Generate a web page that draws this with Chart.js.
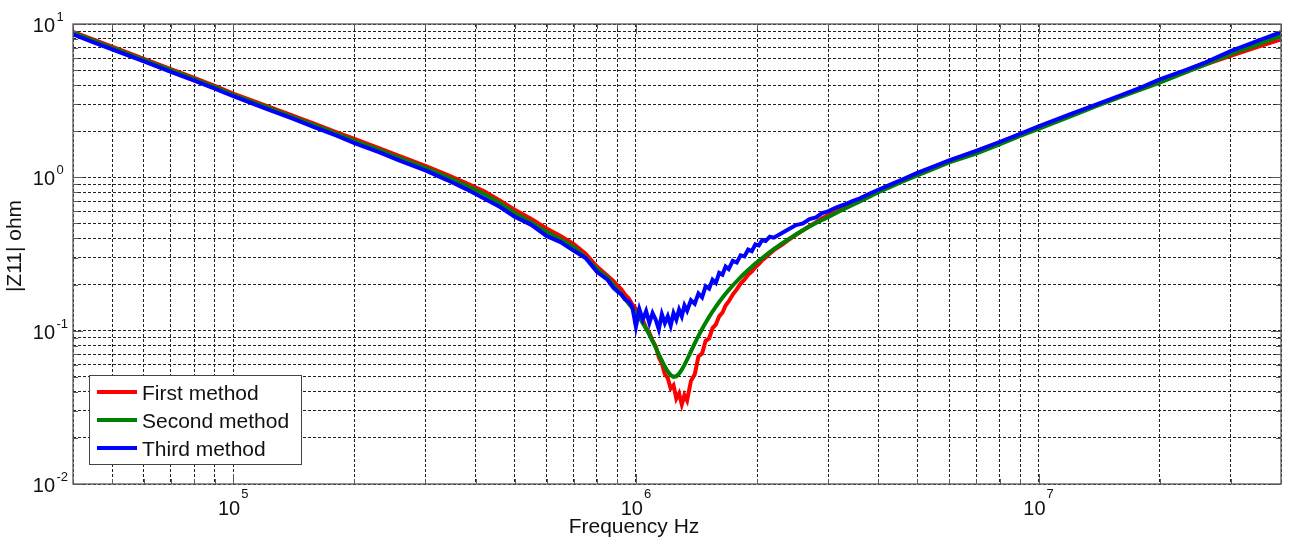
<!DOCTYPE html>
<html>
<head>
<meta charset="utf-8">
<script src="https://cdn.jsdelivr.net/npm/chart.js@4"></script>
<style>
html, body { margin: 0; padding: 0; background: #fff; }
canvas { display: block; }
</style>
</head>
<body>
<canvas id="chart" width="1289" height="542"></canvas>
<script>
// frequency sweep (Hz)
const freq = [
  4e4, 4.5e4, 5e4, 6e4, 7e4, 8e4, 9e4, 1e5, 1.2e5, 1.4e5, 1.6e5, 1.8e5, 2e5, 2.3e5,
  2.6e5, 3e5, 3.4e5, 3.8e5, 4.2e5, 4.6e5, 5e5, 5.5e5, 6e5, 6.5e5, 7e5, 7.5e5, 8e5, 8.5e5,
  8.8e5, 9.0e5, 9.2e5, 9.4e5, 9.6e5, 9.8e5,
  1.00e6, 1.02e6, 1.04e6, 1.06e6, 1.08e6, 1.10e6, 1.12e6, 1.14e6, 1.16e6, 1.18e6,
  1.20e6, 1.22e6, 1.24e6, 1.26e6, 1.28e6, 1.30e6, 1.32e6, 1.34e6,
  1.37e6, 1.40e6, 1.43e6, 1.46e6, 1.49e6, 1.52e6, 1.55e6, 1.58e6, 1.61e6, 1.64e6, 1.67e6, 1.70e6,
  1.74e6, 1.78e6, 1.82e6, 1.86e6, 1.90e6, 1.94e6, 1.98e6, 2.02e6, 2.06e6, 2.10e6,
  2.15e6, 2.20e6,
  2.3e6, 2.4e6, 2.5e6, 2.6e6, 2.7e6, 2.8e6, 2.9e6, 3.0e6, 3.15e6, 3.3e6, 3.45e6, 3.6e6,
  3.8e6, 4.0e6, 4.3e6, 4.6e6, 5.0e6,
  5.5e6, 6e6, 7e6, 8e6, 9e6, 1e7, 1.2e7, 1.4e7, 1.6e7, 1.8e7, 2e7, 2.3e7, 2.6e7, 3e7, 3.5e7, 4e7
];

// |Z11| in ohm for each method
const firstMethod = [
  8.9, 7.92, 7.12, 5.93, 5.08, 4.45, 3.95, 3.52, 2.95, 2.54, 2.22, 1.97, 1.78, 1.55,
  1.37, 1.19, 1.04, 0.915, 0.81, 0.705, 0.615, 0.535, 0.464, 0.415, 0.368, 0.318, 0.262, 0.228,
  0.21, 0.197, 0.186, 0.172, 0.162, 0.148,
  0.139, 0.127, 0.118, 0.104, 0.097, 0.086, 0.079, 0.067, 0.061, 0.052,
  0.049, 0.042, 0.044, 0.036, 0.039, 0.033, 0.038, 0.035,
  0.047, 0.052, 0.068, 0.071, 0.086, 0.089, 0.104, 0.110, 0.124, 0.131, 0.146, 0.155,
  0.172, 0.186, 0.203, 0.215, 0.232, 0.243, 0.259, 0.272, 0.288, 0.300,
  0.318, 0.335,
  0.362, 0.392, 0.422, 0.452, 0.482, 0.51, 0.54, 0.565, 0.60, 0.64, 0.675, 0.715,
  0.765, 0.82, 0.89, 0.965, 1.06,
  1.17, 1.28, 1.48, 1.69, 1.91, 2.12, 2.55, 2.97, 3.38, 3.8, 4.22, 4.85, 5.45, 6.2, 7.1, 7.95
];
const secondMethod = [
  8.75, 7.78, 7.0, 5.83, 5.0, 4.37, 3.88, 3.45, 2.89, 2.48, 2.17, 1.93, 1.73, 1.51,
  1.33, 1.155, 1.005, 0.88, 0.778, 0.677, 0.585, 0.508, 0.441, 0.394, 0.352, 0.3, 0.252, 0.222,
  0.198, 0.185, 0.173, 0.161, 0.150, 0.140,
  0.131, 0.122, 0.112, 0.103, 0.094, 0.0856, 0.0776, 0.0702, 0.0638, 0.0583,
  0.0541, 0.0513, 0.05, 0.0504, 0.0524, 0.0556, 0.0598, 0.0648,
  0.0733, 0.0827, 0.0925, 0.1025, 0.1128, 0.123, 0.1333, 0.1436, 0.1538, 0.164, 0.174, 0.184,
  0.197, 0.21, 0.223, 0.236, 0.249, 0.261, 0.274, 0.286, 0.298, 0.31,
  0.325, 0.34,
  0.369, 0.397, 0.425, 0.452, 0.478, 0.503, 0.527, 0.55, 0.588, 0.624, 0.66, 0.697,
  0.748, 0.80, 0.87, 0.94, 1.03,
  1.14, 1.25, 1.43, 1.64, 1.86, 2.07, 2.5, 2.93, 3.35, 3.75, 4.15, 4.8, 5.45, 6.35, 7.35, 8.4
];
const thirdMethod = [
  8.55, 7.6, 6.84, 5.7, 4.88, 4.27, 3.79, 3.38, 2.82, 2.42, 2.11, 1.88, 1.67, 1.46,
  1.28, 1.11, 0.96, 0.835, 0.728, 0.64, 0.553, 0.49, 0.415, 0.378, 0.333, 0.298, 0.242, 0.215,
  0.19, 0.18, 0.172, 0.16, 0.155, 0.142,
  0.106, 0.138, 0.118, 0.134, 0.112, 0.13, 0.118, 0.102, 0.128, 0.112,
  0.124, 0.108, 0.13, 0.118, 0.137, 0.124, 0.146, 0.135,
  0.158, 0.15, 0.175, 0.165, 0.195, 0.188, 0.215, 0.205, 0.238, 0.232, 0.262, 0.252,
  0.285, 0.278, 0.31, 0.305, 0.338, 0.33, 0.365, 0.36, 0.39, 0.384,
  0.41, 0.404,
  0.432, 0.46, 0.488, 0.5, 0.535, 0.548, 0.585, 0.6, 0.638, 0.665, 0.7, 0.73,
  0.782, 0.83, 0.9, 0.97, 1.07,
  1.18, 1.29, 1.49, 1.7, 1.92, 2.15, 2.58, 3.0, 3.43, 3.86, 4.35, 4.97, 5.62, 6.65, 7.75, 8.85
];

const seriesNames = ['First method', 'Second method', 'Third method'];
const seriesColors = ['#ff0000', '#008000', '#0000ff'];

// axis ranges and labelled decades
const xMin = 4e4, xMax = 4e7;
const yMin = 1e-2, yMax = 1e1;
const xLabelValues = [1e5, 1e6, 1e7];
const xLabelExps = ['5', '6', '7'];
const yLabelValues = [1e-2, 1e-1, 1, 10];
const yLabelExps = ['-2', '-1', '0', '1'];
const xTitle = 'Frequency Hz';
const yTitle = '|Z11| ohm';

// 1..9 x 10^n grid positions inside [lo, hi]
function logGrid(lo, hi) {
  const out = [];
  for (let e = -3; e <= 8; e++) {
    for (let m = 1; m <= 9; m++) {
      const v = Number((m * Math.pow(10, e)).toPrecision(3));
      if (v >= lo * 0.999 && v <= hi * 1.001) out.push({ value: v, major: m === 1 });
    }
  }
  return out;
}
const xGrid = logGrid(xMin, xMax);
const yGrid = logGrid(yMin, yMax);

function toPoints(vals) {
  return vals.map((v, i) => ({ x: freq[i], y: v }));
}

const FONT = '"Liberation Sans", Arial, sans-serif';

function drawPow(ctx, px, py, exp, mode) {
  ctx.fillStyle = '#111';
  ctx.textBaseline = 'alphabetic';
  ctx.font = '20px ' + FONT;
  const wBase = ctx.measureText('10').width;
  ctx.font = '13px ' + FONT;
  const wExp = ctx.measureText(exp).width;
  if (mode === 'x') {
    const left = px - (wBase + 1 + wExp) / 2;
    ctx.font = '20px ' + FONT;
    ctx.textAlign = 'left';
    ctx.fillText('10', left, py + 31);
    ctx.font = '13px ' + FONT;
    ctx.fillText(exp, left + wBase + 1, py + 14);
  } else {
    ctx.font = '20px ' + FONT;
    ctx.textAlign = 'right';
    ctx.fillText('10', 55, py + 8);
    ctx.font = '13px ' + FONT;
    ctx.textAlign = 'left';
    ctx.fillText(exp, 56.5, py - 3);
  }
}

const framePlugin = {
  id: 'frame',
  afterDraw(chart) {
    const { ctx, chartArea: a, scales } = chart;
    const sx = scales.x, sy = scales.y;
    ctx.save();

    // axis box
    ctx.strokeStyle = '#5a5a5a';
    ctx.lineWidth = 1.3;
    ctx.setLineDash([]);
    ctx.strokeRect(a.left, a.top, a.right - a.left, a.bottom - a.top);

    // tick marks on all four sides
    ctx.beginPath();
    xGrid.forEach(t => {
      const px = Math.round(sx.getPixelForValue(t.value)) + 0.5;
      const len = t.major ? 10 : 5;
      ctx.moveTo(px, a.bottom); ctx.lineTo(px, a.bottom - len);
      ctx.moveTo(px, a.top); ctx.lineTo(px, a.top + len);
    });
    yGrid.forEach(t => {
      const py = Math.round(sy.getPixelForValue(t.value)) + 0.5;
      const len = t.major ? 10 : 5;
      ctx.moveTo(a.left, py); ctx.lineTo(a.left + len, py);
      ctx.moveTo(a.right, py); ctx.lineTo(a.right - len, py);
    });
    ctx.lineWidth = 1;
    ctx.stroke();

    // tick labels
    xLabelValues.forEach((v, i) => drawPow(ctx, sx.getPixelForValue(v), a.bottom, xLabelExps[i], 'x'));
    yLabelValues.forEach((v, i) => drawPow(ctx, 0, sy.getPixelForValue(v), yLabelExps[i], 'y'));

    // axis titles
    ctx.fillStyle = '#111';
    ctx.font = '21px ' + FONT;
    ctx.textAlign = 'center';
    ctx.textBaseline = 'alphabetic';
    ctx.fillText(xTitle, 634, 533);
    ctx.save();
    ctx.translate(21, 246);
    ctx.rotate(-Math.PI / 2);
    ctx.fillText(yTitle, 0, 0);
    ctx.restore();

    // legend box
    const lx = 89.5, ly = 375.5, lw = 212, lh = 89;
    ctx.fillStyle = '#fff';
    ctx.fillRect(lx, ly, lw, lh);
    ctx.strokeStyle = '#444';
    ctx.lineWidth = 1;
    ctx.strokeRect(lx, ly, lw, lh);
    const rows = [392, 420, 448];
    chart.data.datasets.forEach((ds, i) => {
      ctx.strokeStyle = ds.borderColor;
      ctx.lineWidth = 4;
      ctx.beginPath();
      ctx.moveTo(97, rows[i]);
      ctx.lineTo(137, rows[i]);
      ctx.stroke();
      ctx.fillStyle = '#111';
      ctx.font = '21px ' + FONT;
      ctx.textAlign = 'left';
      ctx.fillText(ds.label, 142, rows[i] + 7.5);
    });
    ctx.restore();
  }
};

const gridOpts = { color: '#222', lineWidth: 1, drawTicks: false };

new Chart(document.getElementById('chart'), {
  type: 'scatter',
  data: {
    datasets: [
      { label: seriesNames[0], data: toPoints(firstMethod), borderColor: seriesColors[0], order: 3 },
      { label: seriesNames[1], data: toPoints(secondMethod), borderColor: seriesColors[1], order: 2 },
      { label: seriesNames[2], data: toPoints(thirdMethod), borderColor: seriesColors[2], order: 1 }
    ].map(ds => Object.assign(ds, {
      showLine: true,
      borderWidth: 4,
      pointRadius: 0,
      tension: 0,
      fill: false
    }))
  },
  options: {
    responsive: false,
    devicePixelRatio: 1,
    animation: false,
    layout: { padding: { left: 73, right: 8, top: 24, bottom: 58 } },
    scales: {
      x: {
        type: 'logarithmic',
        min: xMin,
        max: xMax,
        afterBuildTicks: scale => { scale.ticks = xGrid.map(t => ({ value: t.value })); },
        grid: gridOpts,
        border: { display: false, dash: [3, 2] },
        ticks: { display: false }
      },
      y: {
        type: 'logarithmic',
        min: yMin,
        max: yMax,
        afterBuildTicks: scale => { scale.ticks = yGrid.map(t => ({ value: t.value })); },
        grid: gridOpts,
        border: { display: false, dash: [3, 2] },
        ticks: { display: false }
      }
    },
    plugins: {
      legend: { display: false },
      tooltip: { enabled: false }
    }
  },
  plugins: [framePlugin]
});
</script>
</body>
</html>
